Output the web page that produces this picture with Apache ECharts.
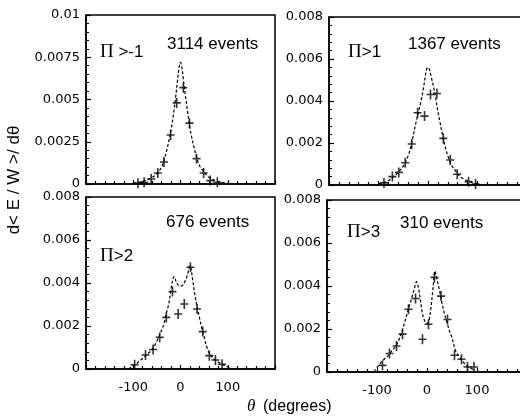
<!DOCTYPE html>
<html>
<head>
<meta charset="utf-8">
<script src="https://cdn.jsdelivr.net/npm/echarts@6/dist/echarts.min.js"></script>
<style>
  html, body { margin: 0; padding: 0; background: #fff; }
  #chart { width: 520px; height: 416px; }
</style>
</head>
<body>
<div id="chart"></div>
<script>
// Panel labels
const cutLabels = ['>-1', '>1', '>2', '>3'];
const eventCounts = ['3114 events', '1367 events', '676 events', '310 events'];

// Measured points [theta (deg), d<E/W>/dθ]
const pointsPm1 = [[-90,0.00005],[-77,0.0001],[-62,0.0003],[-48,0.00065],[-35,0.0013],[-21,0.0029],[-8,0.0048],[6,0.0057],[19,0.0036],[34,0.0015],[49,0.00065],[63,0.0002],[78,0.0001]];
const pointsP1  = [[-89,0.0001],[-72,0.0004],[-59,0.0006],[-46,0.00106],[-33,0.00195],[-21,0.00344],[-7,0.00328],[5,0.00431],[18,0.00436],[31,0.00222],[45,0.00119],[59,0.00051],[82,0.00016],[96,0.00005]];
const pointsP2  = [[-97,0.0002],[-74,0.00065],[-58,0.00091],[-44,0.00147],[-30,0.0024],[-17,0.0036],[-5,0.00256],[8,0.00302],[21,0.00473],[35,0.00279],[47,0.00174],[61,0.00062],[74,0.00042],[88,0.00022]];
const pointsP3  = [[-89,0.00031],[-75,0.00086],[-61,0.00121],[-49,0.00176],[-37,0.00292],[-23,0.00342],[-9,0.00152],[3,0.00222],[15,0.0044],[28,0.00353],[41,0.00244],[55,0.00078],[69,0.00059],[81,0.00023],[94,0.00023]];

// Model curves [theta (deg), d<E/W>/dθ]
const curvePm1 = [[-100,0.00005],[-80,0.00015],[-60,0.0004],[-50,0.0006],[-40,0.001],[-35,0.0014],[-30,0.0019],[-25,0.0025],[-20,0.0032],[-15,0.0041],[-10,0.0052],[-6,0.0062],[-3,0.0069],[0,0.0072],[3,0.0069],[6,0.0062],[10,0.0053],[15,0.0043],[20,0.0033],[25,0.0026],[30,0.002],[35,0.0015],[40,0.0011],[50,0.0007],[60,0.0004],[80,0.00015],[100,0.00005]];
const curveP1  = [[-100,0.00005],[-90,0.0001],[-80,0.0002],[-70,0.0004],[-60,0.0006],[-50,0.0009],[-40,0.0014],[-33,0.002],[-25,0.0029],[-20,0.0034],[-15,0.0039],[-10,0.0045],[-6,0.0051],[-3,0.0055],[0,0.0056],[3,0.0055],[6,0.0052],[10,0.0048],[15,0.0042],[20,0.0035],[25,0.0029],[30,0.0023],[35,0.0018],[40,0.0014],[46,0.001],[55,0.0007],[65,0.0004],[80,0.0002],[100,0.00005]];
const curveP2  = [[-110,0],[-100,0.00015],[-90,0.0003],[-80,0.0005],[-70,0.0007],[-60,0.0009],[-50,0.0013],[-40,0.0018],[-35,0.0021],[-30,0.0026],[-25,0.003],[-20,0.0037],[-16,0.0042],[-13,0.0043],[-10,0.0041],[-5,0.0039],[0,0.00385],[5,0.0039],[10,0.0041],[15,0.0044],[20,0.0048],[22,0.0047],[26,0.0041],[30,0.0035],[35,0.0029],[40,0.0024],[45,0.0019],[50,0.0015],[56,0.001],[65,0.0006],[75,0.0004],[90,0.0002],[105,0.00005]];
const curveP3  = [[-106,0],[-100,0.0002],[-90,0.0005],[-80,0.0007],[-70,0.001],[-60,0.0013],[-50,0.0019],[-40,0.0027],[-35,0.0031],[-30,0.0035],[-25,0.0039],[-21,0.0042],[-17,0.0039],[-13,0.0033],[-9,0.0027],[-5,0.0024],[0,0.00225],[4,0.0024],[8,0.003],[12,0.0039],[16,0.0047],[20,0.0043],[25,0.0038],[30,0.0032],[35,0.0027],[40,0.0023],[45,0.0019],[50,0.0016],[57,0.001],[65,0.0007],[75,0.0004],[85,0.0002],[95,0.0001]];

// Axis settings
const yMaxes = [0.01, 0.008, 0.008, 0.008];
const yIntervals = [0.0025, 0.002, 0.002, 0.002];
const xTickLabels = ['-100', '0', '100'];

const points = [pointsPm1, pointsP1, pointsP2, pointsP3];
const curves = [curvePm1, curveP1, curveP2, curveP3];

// Right-hand panels run past the right edge of the page
const grids = [
  { left: 86,  top: 15,  width: 189, height: 169 },
  { left: 329, top: 17,  width: 198, height: 168 },
  { left: 86,  top: 197, width: 189, height: 172 },
  { left: 327, top: 200, width: 200, height: 172 }
];

const tickFont = 'DejaVu Sans';
const black = '#000';

const xAxes = grids.map((g, i) => ({
  gridIndex: i, type: 'value', min: -200, max: 200, interval: 100,
  axisLine: { show: true, onZero: false, lineStyle: { color: black, width: 1.5 } },
  axisTick: { show: true, inside: true, length: 4, lineStyle: { color: black, width: 1.2 } },
  minorTick: { show: true, splitNumber: 5, length: 3, lineStyle: { color: black, width: 1.2 } },
  splitLine: { show: false },
  axisLabel: {
    show: i >= 2, color: black, fontFamily: tickFont, fontSize: 13, margin: 12,
    formatter: v => xTickLabels.includes(String(v)) ? String(v) : ''
  }
}));

const yAxes = grids.map((g, i) => ({
  gridIndex: i, type: 'value', min: 0, max: yMaxes[i], interval: yIntervals[i],
  axisLine: { show: true, onZero: false, lineStyle: { color: black, width: 1.5 } },
  axisTick: { show: true, inside: true, length: 5, lineStyle: { color: black, width: 1.2 } },
  minorTick: { show: true, splitNumber: 5, length: 3, lineStyle: { color: black, width: 1 } },
  splitLine: { show: false },
  axisLabel: {
    color: black, fontFamily: tickFont, fontSize: 13, margin: 6,
    formatter: v => String(parseFloat(v.toFixed(6)))
  }
}));

const series = [];
curves.forEach((c, i) => {
  series.push({
    type: 'line', xAxisIndex: i, yAxisIndex: i, data: c,
    symbol: 'none', smooth: 0.35, silent: true,
    lineStyle: { color: black, width: 1.2, type: [3, 2] }
  });
});
// Cross marker: horizontal bin bar with vertical error bar
const crossPath = 'path://M0,4.2H8V5.8H0Z M3.2,0H4.8V10H3.2Z';
points.forEach((p, i) => {
  series.push({
    type: 'scatter', xAxisIndex: i, yAxisIndex: i, data: p,
    symbol: crossPath, symbolSize: [8, 10], silent: true,
    itemStyle: { color: black }
  });
});

const labelFont = 'Liberation Sans';
function cutText(x, y, s) {
  return {
    type: 'text', x: x, y: y, silent: true,
    style: {
      text: '{p|Π}{s|' + s + '}', fill: black, verticalAlign: 'middle',
      rich: {
        p: { fontFamily: 'Liberation Serif', fontSize: 19, fill: black },
        s: { fontFamily: labelFont, fontSize: 17, fill: black }
      }
    }
  };
}
function countText(x, y, s) {
  return {
    type: 'text', x: x, y: y, silent: true,
    style: { text: s, fill: black, font: '17px "Liberation Sans"', verticalAlign: 'middle' }
  };
}

const graphics = [
  cutText(100, 52, ' ' + cutLabels[0]),
  countText(167, 44, eventCounts[0]),
  cutText(348, 52, cutLabels[1]),
  countText(408, 44, eventCounts[1]),
  cutText(100, 256, cutLabels[2]),
  countText(166, 222, eventCounts[2]),
  cutText(347, 232, cutLabels[3]),
  countText(400, 223, eventCounts[3]),
  {
    type: 'text', x: 247, y: 407, silent: true,
    style: { text: 'θ', fill: black, font: 'italic 17px "Liberation Serif"', verticalAlign: 'middle' }
  },
  {
    type: 'text', x: 263, y: 407, silent: true,
    style: { text: '(degrees)', fill: black, font: '16px "Liberation Sans"', verticalAlign: 'middle' }
  },
  {
    type: 'text', x: 14, y: 180, rotation: Math.PI / 2, silent: true,
    style: { text: 'd< E / W >/ dθ', fill: black, font: '17px "Liberation Sans"', align: 'center', verticalAlign: 'middle' }
  }
];

const chart = echarts.init(document.getElementById('chart'), null, { renderer: 'canvas' });
chart.setOption({
  backgroundColor: '#fff',
  animation: false,
  grid: grids.map(g => Object.assign({
    show: true, borderColor: black, borderWidth: 1.5, backgroundColor: 'transparent',
    containLabel: false, outerBoundsMode: 'none'
  }, g)),
  xAxis: xAxes,
  yAxis: yAxes,
  series: series,
  graphic: graphics
});
</script>
</body>
</html>
